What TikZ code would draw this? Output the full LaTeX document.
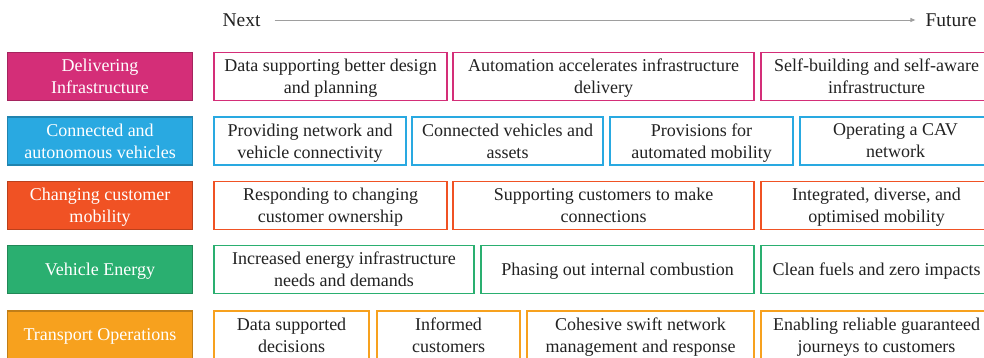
\documentclass[tikz,border=0pt]{standalone}
\usepackage{fontspec}
\setmainfont{Liberation Serif}
\usetikzlibrary{arrows.meta}
\definecolor{cpink}{HTML}{D42E78}
\definecolor{cblue}{HTML}{29A9E1}
\definecolor{cred}{HTML}{F05224}
\definecolor{cgreen}{HTML}{2AAF70}
\definecolor{corange}{HTML}{F7A11E}
\definecolor{txt}{HTML}{222222}
\begin{document}
\begin{tikzpicture}[x=1pt,y=-1pt,
  lab/.style={draw=#1!78!black, line width=1.2pt, fill=#1, text=white, align=center,
    inner sep=0pt, text depth=-3.5pt, font=\fontsize{18}{22}\selectfont, minimum height=48pt, minimum width=185pt},
  cb/.style={draw=#1, line width=1.6pt, fill=white, text=txt, align=center,
    inner sep=0pt, text depth=-3.5pt, font=\fontsize{18}{22}\selectfont, minimum height=48pt},
  hd/.style={text=txt, inner sep=0pt, font=\fontsize{19.5}{22}\selectfont},
  axis/.style={draw=black!38, line width=0.9pt, -{Triangle[length=5pt,width=4pt]}}
]
\useasboundingbox (0,0) rectangle (984,358);
\clip (0,0) rectangle (984,358);
\fill[white] (0,0) rectangle (984,358);

% header
\node[hd] (next) at (241.5,20) {Next};
\node[hd] (future) at (951,20) {Future};
\draw[axis, shorten <=14pt, shorten >=10pt] (next) -- (future);

% row 1
\node[lab=cpink] (l1) at (100,76.5) {Delivering\\Infrastructure};
\node[cb=cpink, minimum width=233pt] (a1) at (330.5,76.5) {Data supporting better design\\and planning};
\node[cb=cpink, minimum width=301pt] (a2) at (603.5,76.5) {Automation accelerates infrastructure\\delivery};
\node[cb=cpink, minimum width=231pt] (a3) at (876.5,76.5) {Self-building and self-aware\\infrastructure};

% row 2
\node[lab=cblue] (l2) at (100,141) {Connected and\\autonomous vehicles};
\node[cb=cblue, minimum width=192pt] (b1) at (310,141) {Providing network and\\vehicle connectivity};
\node[cb=cblue, minimum width=191pt] (b2) at (507.5,141) {Connected vehicles and\\assets};
\node[cb=cblue, minimum width=183pt] (b3) at (701.5,141) {Provisions for\\automated mobility};
\node[cb=cblue, minimum width=191pt] (b4) at (895.5,141) {Operating a CAV\\network};

% row 3
\node[lab=cred] (l3) at (100,205.5) {Changing customer\\mobility};
\node[cb=cred, minimum width=233pt] (c1) at (330.5,205.5) {Responding to changing\\customer ownership};
\node[cb=cred, minimum width=301pt] (c2) at (603.5,205.5) {Supporting customers to make\\connections};
\node[cb=cred, minimum width=231pt] (c3) at (876.5,205.5) {Integrated, diverse, and\\optimised mobility};

% row 4
\node[lab=cgreen] (l4) at (100,269.5) {Vehicle Energy};
\node[cb=cgreen, minimum width=260pt] (d1) at (344,269.5) {Increased energy infrastructure\\needs and demands};
\node[cb=cgreen, minimum width=273pt] (d2) at (617.5,269.5) {Phasing out internal combustion};
\node[cb=cgreen, minimum width=231pt] (d3) at (876.5,269.5) {Clean fuels and zero impacts};

% row 5
\node[lab=corange] (l5) at (100,335) {Transport Operations};
\node[cb=corange, minimum width=155pt] (e1) at (291.5,335) {Data supported\\decisions};
\node[cb=corange, minimum width=143pt] (e2) at (448.5,335) {Informed\\customers};
\node[cb=corange, minimum width=227pt] (e3) at (640.5,335) {Cohesive swift network\\management and response};
\node[cb=corange, minimum width=231pt] (e4) at (876.5,335) {Enabling reliable guaranteed\\journeys to customers};
\end{tikzpicture}
\end{document}
